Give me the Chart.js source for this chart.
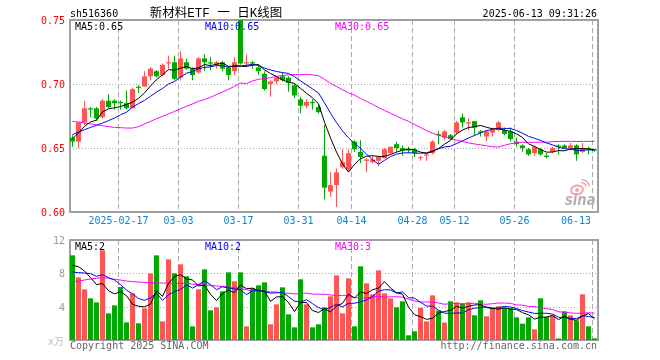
<!DOCTYPE html>
<html>
<head>
<meta charset="utf-8">
<script src="https://cdn.jsdelivr.net/npm/chart.js@4.4.1/dist/chart.umd.min.js"></script>
<style>
html,body{margin:0;padding:0;background:#fff;}
#wrap{position:relative;width:660px;height:360px;overflow:hidden;}
canvas{position:absolute;left:0;top:0;}
</style>
</head>
<body>
<div id="wrap">
<canvas id="price" width="660" height="360"></canvas>
<canvas id="vol" width="660" height="360"></canvas>
</div>
<script>
// ---------------- data ----------------
const dates = [
'2025-02-05','2025-02-06','2025-02-07','2025-02-10','2025-02-11','2025-02-12','2025-02-13','2025-02-14','2025-02-17','2025-02-18',
'2025-02-19','2025-02-20','2025-02-21','2025-02-24','2025-02-25','2025-02-26','2025-02-27','2025-02-28','2025-03-03','2025-03-04',
'2025-03-05','2025-03-06','2025-03-07','2025-03-10','2025-03-11','2025-03-12','2025-03-13','2025-03-14','2025-03-17','2025-03-18',
'2025-03-19','2025-03-20','2025-03-21','2025-03-24','2025-03-25','2025-03-26','2025-03-27','2025-03-28','2025-03-31','2025-04-01',
'2025-04-02','2025-04-03','2025-04-07','2025-04-08','2025-04-09','2025-04-10','2025-04-11','2025-04-14','2025-04-15','2025-04-16',
'2025-04-17','2025-04-18','2025-04-21','2025-04-22','2025-04-23','2025-04-24','2025-04-25','2025-04-28','2025-04-29','2025-04-30',
'2025-05-06','2025-05-07','2025-05-08','2025-05-09','2025-05-12','2025-05-13','2025-05-14','2025-05-15','2025-05-16','2025-05-19',
'2025-05-20','2025-05-21','2025-05-22','2025-05-23','2025-05-26','2025-05-27','2025-05-28','2025-05-29','2025-05-30','2025-06-03',
'2025-06-04','2025-06-05','2025-06-06','2025-06-09','2025-06-10','2025-06-11','2025-06-12','2025-06-13'];

const open = [
0.658,0.655,0.670,0.681,0.681,0.674,0.687,0.687,0.686,0.685,
0.681,0.698,0.698,0.706,0.710,0.707,0.716,0.717,0.705,0.717,
0.712,0.709,0.720,0.717,0.715,0.717,0.713,0.710,0.750,0.716,
0.717,0.713,0.708,0.700,0.702,0.706,0.705,0.699,0.688,0.683,
0.686,0.682,0.644,0.616,0.621,0.635,0.633,0.655,0.647,0.640,
0.639,0.640,0.642,0.646,0.653,0.650,0.649,0.649,0.642,0.644,
0.646,0.661,0.658,0.660,0.662,0.674,0.669,0.671,0.663,0.659,
0.662,0.664,0.664,0.663,0.655,0.652,0.649,0.646,0.649,0.644,
0.647,0.652,0.652,0.650,0.652,0.647,0.650,0.649];

const high = [
0.660,0.670,0.687,0.682,0.682,0.688,0.692,0.688,0.687,0.695,
0.697,0.699,0.710,0.713,0.711,0.716,0.722,0.722,0.726,0.720,
0.713,0.721,0.723,0.721,0.718,0.718,0.714,0.721,0.750,0.723,
0.718,0.715,0.710,0.703,0.706,0.709,0.706,0.700,0.690,0.688,
0.688,0.684,0.668,0.631,0.634,0.649,0.649,0.656,0.656,0.642,
0.644,0.644,0.650,0.651,0.655,0.652,0.651,0.650,0.644,0.645,
0.656,0.663,0.664,0.661,0.671,0.677,0.673,0.671,0.664,0.664,
0.666,0.671,0.666,0.666,0.658,0.653,0.650,0.652,0.650,0.646,
0.651,0.653,0.653,0.654,0.653,0.654,0.651,0.649];

const low = [
0.651,0.650,0.668,0.674,0.671,0.673,0.681,0.680,0.680,0.680,
0.681,0.693,0.698,0.703,0.705,0.706,0.712,0.703,0.703,0.711,
0.703,0.708,0.710,0.711,0.712,0.710,0.703,0.707,0.715,0.713,
0.712,0.707,0.695,0.690,0.700,0.702,0.694,0.689,0.677,0.681,
0.680,0.677,0.610,0.612,0.604,0.634,0.632,0.647,0.638,0.631,
0.638,0.636,0.642,0.645,0.647,0.644,0.646,0.643,0.640,0.640,
0.645,0.653,0.656,0.656,0.661,0.666,0.664,0.660,0.659,0.655,
0.659,0.663,0.660,0.655,0.651,0.647,0.644,0.644,0.644,0.642,
0.646,0.645,0.650,0.649,0.640,0.646,0.645,0.647];

const close = [
0.655,0.670,0.681,0.680,0.673,0.687,0.682,0.685,0.685,0.681,
0.696,0.697,0.706,0.712,0.706,0.715,0.717,0.704,0.720,0.712,
0.707,0.720,0.717,0.716,0.717,0.712,0.707,0.717,0.716,0.717,
0.716,0.710,0.696,0.702,0.705,0.703,0.701,0.691,0.683,0.686,
0.685,0.678,0.619,0.621,0.631,0.639,0.646,0.649,0.643,0.641,
0.641,0.643,0.649,0.651,0.650,0.648,0.648,0.646,0.642,0.645,
0.655,0.660,0.663,0.657,0.670,0.670,0.670,0.666,0.662,0.663,
0.664,0.670,0.661,0.657,0.653,0.650,0.645,0.651,0.645,0.643,
0.650,0.651,0.650,0.652,0.645,0.650,0.649,0.648];

// volume, in 万
const volume = [
10.16,7.52,6.08,5.00,4.52,10.76,3.20,4.16,6.36,2.12,
5.60,2.00,3.80,8.00,10.16,2.24,9.68,8.00,9.08,7.64,
1.64,6.08,8.48,3.56,3.92,5.84,8.12,7.04,8.12,1.64,
6.20,6.56,6.92,1.88,4.28,6.32,3.08,1.52,7.28,4.28,
1.52,1.88,3.92,5.24,7.76,3.20,7.40,1.64,8.84,6.80,
5.48,8.36,5.60,5.00,3.92,4.64,0.56,1.04,3.86,2.24,
5.36,3.54,2.10,4.64,4.52,4.40,4.52,2.96,4.76,2.84,
3.86,4.04,3.86,3.84,2.72,1.96,2.72,1.28,5.00,2.78,
2.96,0.18,3.44,2.96,2.36,5.48,1.64,0.20];

// moving-average values visible at the left edge (before enough bars exist on the chart)
const ma5Head  = [0.6573,0.6617,0.6669,0.6703];
const ma10Head = [0.6604,0.6625,0.6643,0.6661,0.6677,0.6695,0.6714,0.6734,0.6760];
const ma30Head = [0.6708,0.6703,0.6695,0.6688,0.6682,0.6674,0.6667,0.6661,0.6659,0.6656,
                  0.6656,0.6667,0.6688,0.6708,0.6729,0.6747,0.6766,0.6786,0.6807,0.6826,
                  0.6844,0.6865,0.6878,0.6896,0.6917,0.6938,0.6958,0.6982,0.7008];
const vma5Head  = [8.96,8.80,8.28,7.48];
const vma10Head = [8.16,8.08,8.04,7.96,7.64,7.84,7.48,7.20,6.64];
const vma30Head = [7.00,7.08,7.20,7.32,7.40,7.48,7.40,7.28,7.20,7.08,
                   7.00,6.96,6.92,6.88,6.84,6.84,6.80,6.80,6.80,6.80,
                   6.70,6.66,6.62,6.56,6.48,6.42,6.36,6.30,6.20];

const priceTicks = [0.60, 0.65, 0.70, 0.75];
const volTicks = [4, 8, 12];
const volUnit = 'x万';
const xTickDates  = ['2025-02-17','2025-03-03','2025-03-17','2025-03-31','2025-04-14','2025-04-28','2025-05-12','2025-05-26','2025-06-13'];
const xTickLabels = ['2025-02-17','03-03','03-17','03-31','04-14','04-28','05-12','05-26','06-13'];
const priceLegend = ['MA5:0.65','MA10:0.65','MA30:0.65'];
const volLegend = ['MA5:2','MA10:2','MA30:3'];
const headerCode = 'sh516360';
const headerTitle = '新材料ETF 一 日K线图';
const headerTime = '2025-06-13 09:31:26';
const copyright = 'Copyright 2025 SINA.COM';
const siteUrl = 'http://finance.sina.com.cn';

// ---------------- derived ----------------
function movingAverage(values, n, head) {
  return values.map((v, i) => {
    if (i < n - 1) return head[i];
    let s = 0;
    for (let k = i - n + 1; k <= i; k++) s += values[k];
    return s / n;
  });
}
const N = dates.length;
const idx = dates.map((d, i) => i);
const UP = '#ff5555', DOWN = '#00a800';
const LINE_COLORS = ['#000000', '#0000ff', '#ff00ff'];
const barColors = close.map((c, i) => c >= open[i] ? UP : DOWN);
const ma = [movingAverage(close, 5, ma5Head), movingAverage(close, 10, ma10Head), movingAverage(close, 30, ma30Head)];
const vma = [movingAverage(volume, 5, vma5Head), movingAverage(volume, 10, vma10Head), movingAverage(volume, 30, vma30Head)];

const FONT = '10px "DejaVu Sans Mono", monospace';
const XMIN = -0.5 + 1 / 12, XMAX = N - 0.5 + 1 / 12;

function drawText(ctx, s, x, y, color, font, align) {
  ctx.font = font || FONT;
  ctx.fillStyle = color;
  ctx.textAlign = align || 'left';
  ctx.textBaseline = 'alphabetic';
  ctx.fillText(s, x, y);
}
function line(ctx, x1, y1, x2, y2) {
  ctx.beginPath(); ctx.moveTo(x1, y1); ctx.lineTo(x2, y2); ctx.stroke();
}
function gridX(xScale, d) {
  return Math.round(xScale.getPixelForValue(dates.indexOf(d) - 0.5)) + 0.5;
}
function drawGridAndBorder(chart, ticks) {
  const {ctx, chartArea: a, scales: {x, y}} = chart;
  ctx.save();
  ctx.strokeStyle = '#ababab';
  ctx.lineWidth = 1;
  ctx.setLineDash([1, 2]);
  ticks.forEach(v => {
    const py = Math.round(y.getPixelForValue(v)) + 0.5;
    if (py > a.top + 3 && py < a.bottom - 3) line(ctx, a.left, py, a.right, py);
  });
  ctx.setLineDash([5, 3]);
  xTickDates.forEach(d => { const px = gridX(x, d); line(ctx, px, a.top, px, a.bottom); });
  ctx.setLineDash([]);
  ctx.strokeStyle = '#a0a0a0';
  ctx.lineWidth = 2;
  ctx.strokeRect(a.left, a.top, a.right - a.left, a.bottom - a.top);
  ctx.restore();
}
function drawWatermark(ctx) {
  ctx.save();
  ctx.strokeStyle = '#f2a8a8';
  ctx.fillStyle = '#f2a8a8';
  ctx.lineWidth = 2;
  ctx.beginPath(); ctx.ellipse(577, 190, 6, 4.5, -0.2, 0, Math.PI * 2); ctx.stroke();
  ctx.beginPath(); ctx.arc(577, 190, 2, 0, Math.PI * 2); ctx.fill();
  ctx.lineWidth = 1.5;
  ctx.beginPath(); ctx.arc(581, 188, 5.5, -1.6, -0.3); ctx.stroke();
  ctx.beginPath(); ctx.arc(581, 188, 8.5, -1.5, -0.2); ctx.stroke();
  ctx.translate(565, 205);
  ctx.scale(0.82, 1);
  drawText(ctx, 'sina', 0, 0, '#b2b2b2', 'italic bold 16px "DejaVu Sans", sans-serif', 'left');
  ctx.restore();
}

const pricePlugin = {
  id: 'pricePanel',
  beforeDatasetsDraw(chart) {
    drawWatermark(chart.ctx);
    drawGridAndBorder(chart, priceTicks);
  },
  afterDraw(chart) {
    const {ctx, chartArea: a, scales: {x, y}} = chart;
    ctx.save();
    priceTicks.forEach(v => drawText(ctx, v.toFixed(2), a.left - 5, Math.round(y.getPixelForValue(v)) + 4, '#ff0000', FONT, 'right'));
    ctx.font = FONT;
    xTickDates.forEach((d, k) => {
      const px = gridX(x, d);
      const s = xTickLabels[k];
      const w = ctx.measureText(s).width;
      if (px + w / 2 > a.right - 7) drawText(ctx, s, a.right - 7, 224, '#0a84d0', FONT, 'right');
      else drawText(ctx, s, px, 224, '#0a84d0', FONT, 'center');
    });
    [75, 205, 335].forEach((lx, k) => drawText(ctx, priceLegend[k], lx, 30, LINE_COLORS[k], FONT, 'left'));
    drawText(ctx, headerCode, 70, 17, '#000', FONT, 'left');
    drawText(ctx, headerTitle, 216, 16.5, '#000', '12.5px "Liberation Mono", "Noto Sans CJK SC", monospace', 'center');
    drawText(ctx, headerTime, 597, 17, '#000', FONT, 'right');
    ctx.restore();
  }
};

const volPlugin = {
  id: 'volPanel',
  beforeDatasetsDraw(chart) {
    drawGridAndBorder(chart, volTicks);
  },
  afterDraw(chart) {
    const {ctx, chartArea: a, scales: {y}} = chart;
    ctx.save();
    volTicks.forEach(v => drawText(ctx, String(v), a.left - 5, Math.round(y.getPixelForValue(v)) + 4, '#999999', FONT, 'right'));
    drawText(ctx, volUnit, a.left - 6, Math.round(y.getPixelForValue(0)) + 5, '#bbbbbb', '10px "DejaVu Sans Mono", "Noto Sans CJK SC", monospace', 'right');
    [75, 205, 335].forEach((lx, k) => drawText(ctx, volLegend[k], lx, 250, LINE_COLORS[k], FONT, 'left'));
    drawText(ctx, copyright, 70, 349, '#666666', FONT, 'left');
    drawText(ctx, siteUrl, 597, 349, '#666666', FONT, 'right');
    ctx.restore();
  }
};

function lineSet(values, k) {
  return {
    type: 'line',
    data: idx.map(i => ({x: i, y: values[i]})),
    borderColor: LINE_COLORS[k],
    borderWidth: 1,
    pointRadius: 0,
    tension: 0,
    fill: false,
    order: 0
  };
}
const baseOptions = (padding, yMin, yMax) => ({
  responsive: false,
  maintainAspectRatio: false,
  animation: false,
  devicePixelRatio: 1,
  events: [],
  layout: {padding},
  plugins: {legend: {display: false}, tooltip: {enabled: false}, title: {display: false}},
  scales: {
    x: {type: 'linear', display: false, min: XMIN, max: XMAX, offset: false},
    y: {type: 'linear', display: false, min: yMin, max: yMax, beginAtZero: false}
  }
});

new Chart(document.getElementById('price'), {
  type: 'bar',
  data: {
    datasets: [
      lineSet(ma[0], 0), lineSet(ma[1], 1), lineSet(ma[2], 2),
      {
        type: 'bar', label: 'wick',
        data: idx.map(i => ({x: i, y: [low[i], high[i]]})),
        backgroundColor: barColors, borderWidth: 0, barThickness: 1,
        grouped: false, inflateAmount: 0, minBarLength: 1, order: 2
      },
      {
        type: 'bar', label: 'body',
        data: idx.map(i => ({x: i, y: [open[i], close[i]]})),
        backgroundColor: barColors, borderWidth: 0, barThickness: 5,
        grouped: false, inflateAmount: 0, minBarLength: 1, order: 1
      }
    ]
  },
  options: baseOptions({top: 20, right: 62, bottom: 148, left: 70}, priceTicks[0], priceTicks[priceTicks.length - 1]),
  plugins: [pricePlugin]
});

new Chart(document.getElementById('vol'), {
  type: 'bar',
  data: {
    datasets: [
      lineSet(vma[0], 0), lineSet(vma[1], 1), lineSet(vma[2], 2),
      {
        type: 'bar', label: 'volume',
        data: idx.map(i => ({x: i, y: volume[i]})),
        backgroundColor: barColors, borderWidth: 0, barThickness: 5,
        grouped: false, inflateAmount: 0, order: 1
      }
    ]
  },
  options: baseOptions({top: 240, right: 62, bottom: 20, left: 70}, 0, volTicks[volTicks.length - 1]),
  plugins: [volPlugin]
});
</script>
</body>
</html>
